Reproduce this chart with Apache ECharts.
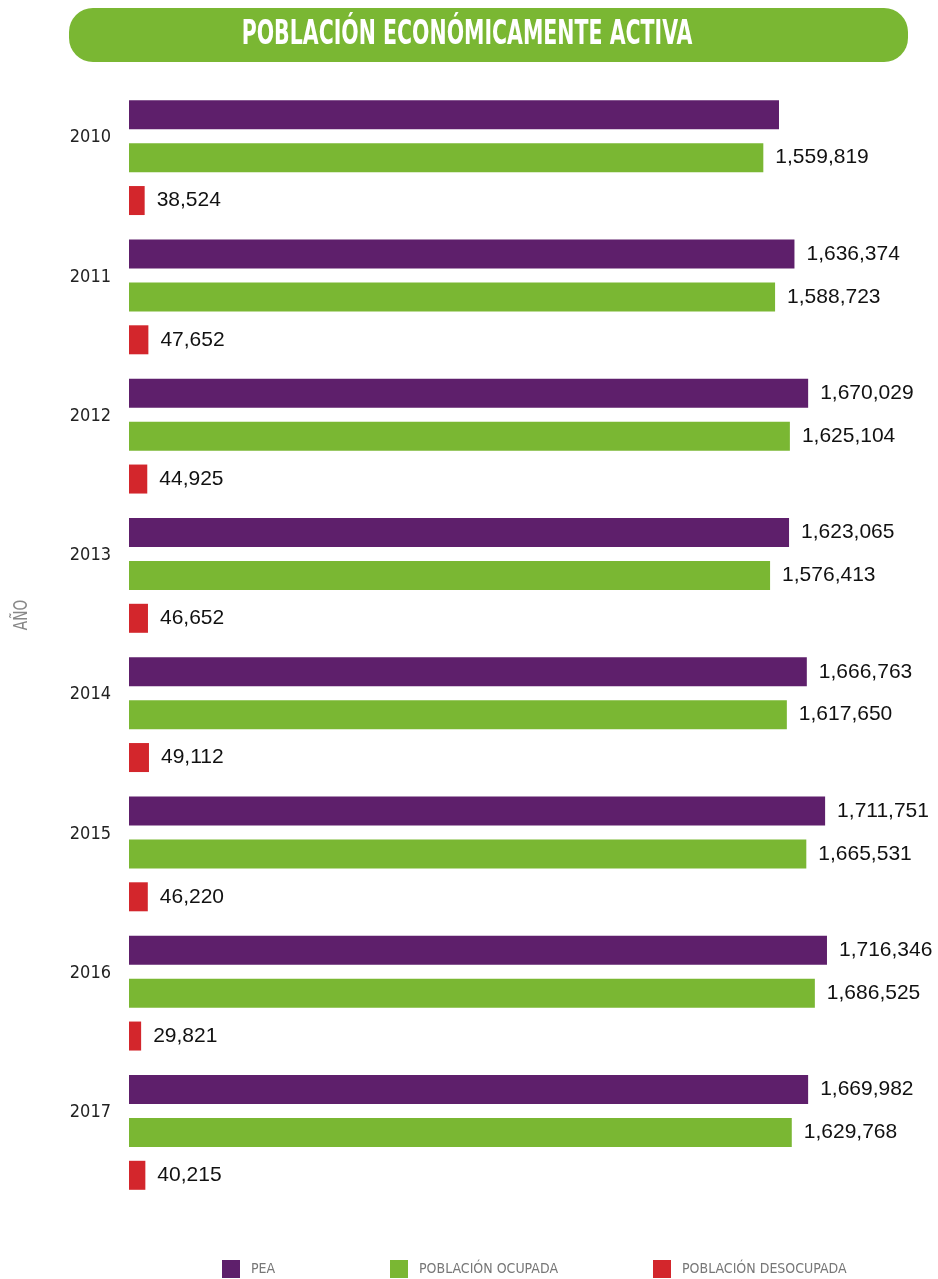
<!DOCTYPE html>
<html lang="es">

<head>
    <meta charset="UTF-8">
    <title>Población económicamente activa</title>
    <script src="https://cdn.jsdelivr.net/npm/echarts@6/dist/echarts.min.js"></script>
    <style>
        body { margin: 0; background: #fff; }
    </style>
</head>

<body>
    <div id="main" style="width: 938px;height:1279px;"></div>
    <script type="text/javascript">
        // datos
        var years = ['2010', '2011', '2012', '2013', '2014', '2015', '2016', '2017'];
        var pea = [1598343, 1636374, 1670029, 1623065, 1666763, 1711751, 1716346, 1669982];
        var ocupada = [1559819, 1588723, 1625104, 1576413, 1617650, 1665531, 1686525, 1629768];
        var desocupada = [38524, 47652, 44925, 46652, 49112, 46220, 29821, 40215];
        var names = ['PEA', 'POBLACIÓN OCUPADA', 'POBLACIÓN DESOCUPADA'];
        var colors = ['#5e1f6b', '#7ab733', '#d3262c'];

        var narrow = "'Liberation Sans Narrow', 'DejaVu Sans Condensed', sans-serif";

        // en la fuente no aparece la etiqueta de la PEA 2010
        var peaData = pea.map(function (v, i) {
            return i === 0 ? { value: v, label: { show: false } } : v;
        });

        function fmt(p) {
            return Number(p.value).toLocaleString('en-US');
        }

        function serie(i, data) {
            return {
                name: names[i],
                type: 'bar',
                data: data,
                barWidth: 29,
                barGap: '48%',
                itemStyle: { color: colors[i] },
                label: {
                    show: true,
                    position: 'right',
                    distance: 12,
                    formatter: fmt,
                    fontFamily: "'Liberation Sans', Arial, sans-serif",
                    fontSize: 21,
                    color: '#111',
                    padding: [5, 0, 0, 0]
                }
            };
        }

        function leyenda(i, left) {
            return {
                left: left,
                top: 1260,
                padding: 0,
                data: [names[i]],
                itemWidth: 18,
                itemHeight: 18,
                icon: 'rect',
                textStyle: {
                    fontFamily: narrow,
                    fontSize: 14,
                    color: '#777',
                    padding: [3, 0, 0, 6]
                }
            };
        }

        var myChart = echarts.init(document.getElementById('main'));
        myChart.setOption({
            animation: false,
            backgroundColor: '#fff',
            graphic: [
                {
                    type: 'rect',
                    shape: { x: 69, y: 8, width: 839, height: 54, r: 24 },
                    style: { fill: '#7ab733' }
                },
                {
                    type: 'text',
                    x: 467,
                    y: 35,
                    scaleX: 0.67,
                    style: {
                        text: 'POBLACIÓN ECONÓMICAMENTE ACTIVA',
                        fill: '#fff',
                        font: 'bold 34px ' + narrow,
                        align: 'center',
                        verticalAlign: 'middle'
                    }
                },
                {
                    type: 'text',
                    x: 22,
                    y: 615,
                    rotation: Math.PI / 2,
                    scaleX: 0.8,
                    style: {
                        text: 'AÑO',
                        fill: '#888',
                        font: '19px ' + narrow,
                        align: 'center',
                        verticalAlign: 'middle'
                    }
                }
            ],
            legend: [leyenda(0, 222), leyenda(1, 390), leyenda(2, 653)],
            grid: {
                left: 129,
                right: 16,
                top: 88,
                height: 1114
            },
            xAxis: {
                type: 'value',
                min: 0,
                max: 1950000,
                show: false
            },
            yAxis: {
                type: 'category',
                inverse: true,
                data: years,
                axisLine: { show: false },
                axisTick: { show: false },
                axisLabel: {
                    margin: 18,
                    fontFamily: narrow,
                    fontSize: 18,
                    color: '#222',
                    verticalAlign: 'bottom',
                    lineHeight: 40
                }
            },
            series: [serie(0, peaData), serie(1, ocupada), serie(2, desocupada)]
        });
    </script>
</body>

</html>
